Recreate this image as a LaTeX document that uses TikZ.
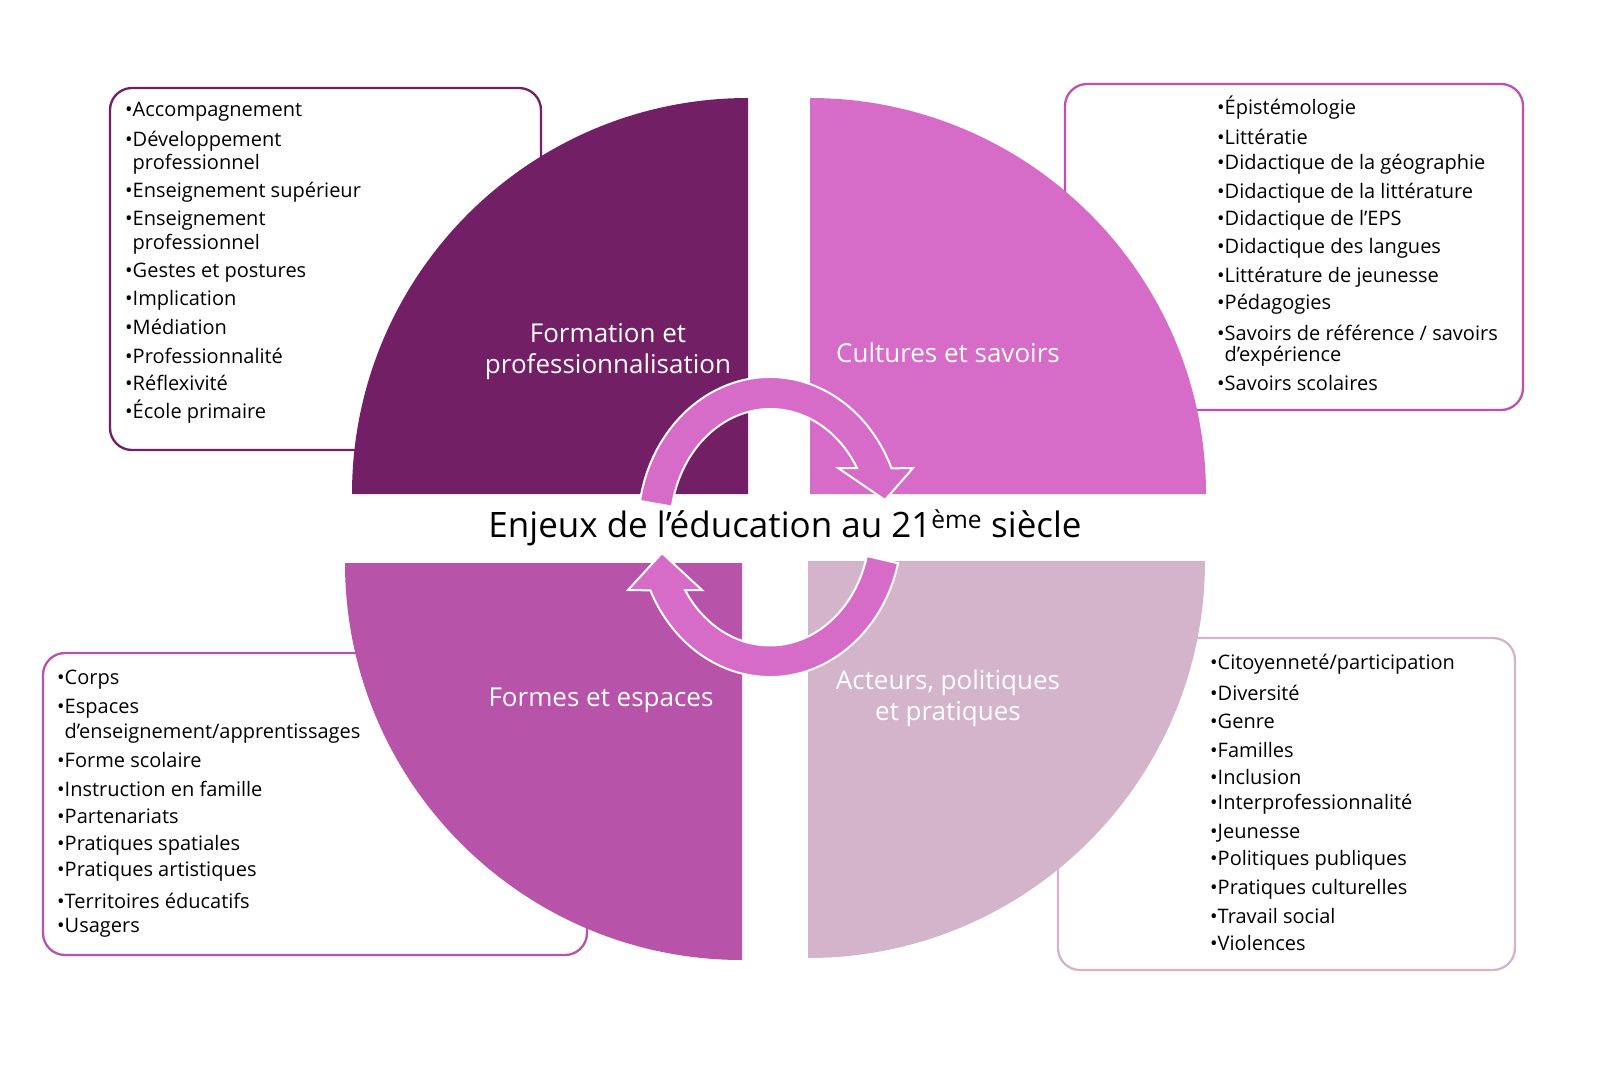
\documentclass[tikz,border=0pt]{standalone}
\usepackage{fontspec}
\setmainfont{Open Sans}
\definecolor{qa}{HTML}{721F66}
\definecolor{qb}{HTML}{D76BC8}
\definecolor{qc}{HTML}{B853AA}
\definecolor{qd}{HTML}{D4B4CB}
\definecolor{bb}{HTML}{C050B0}
\newcommand{\sq}{{\char"0027}}
\begin{document}
\begin{tikzpicture}[x=1pt,y=-1pt,
  lbox/.style={rounded corners=22pt,line width=2.3pt,fill=white},
  item/.style={anchor=west,inner sep=0pt,font=\fontsize{20}{22}\selectfont},
  qlab/.style={text=white,align=center,font=\fontsize{26}{31}\selectfont},
  arr/.style={fill=qb,draw=white,line width=2pt}]
\path[use as bounding box] (0,0) rectangle (1618,1066);
% boxes
\draw[lbox,draw=qa] (110,88) rectangle (541,450);
\draw[lbox,draw=bb] (1065,84) rectangle (1523,410);
\draw[lbox,draw=qc] (43,653) rectangle (587,955);
\draw[lbox,draw=qd] (1058,638) rectangle (1515,970);
% quadrants
\fill[qa] (748,494) -- (352,494) arc[start angle=180,end angle=270,radius=396] -- cycle;
\fill[qb] (810,494) -- (810,98) arc[start angle=270,end angle=360,radius=396] -- cycle;
\fill[qc] (742,563) -- (742,960) arc[start angle=90,end angle=180,radius=397] -- (742,563) -- cycle;
\fill[qd] (808,561) -- (1205,561) arc[start angle=0,end angle=90,radius=397] -- cycle;
% labels
\node[qlab] (q1) at (608,352) {Formation et\\professionnalisation};
\node[qlab] (q2) at (948,353) {Cultures et savoirs};
\node[qlab] (q3) at (601,700) {Formes et espaces};
\node[qlab] (q4) at (948,698) {Acteurs, politiques\\et pratiques};
% circular arrows
\path[arr] (770,527) ++(190:132 and 150) arc[start angle=190,end angle=337,x radius=132,y radius=150]
  -- (913,468) -- (885,500) -- (838,468) -- (857,468)
  arc[start angle=330,end angle=190,x radius=100,y radius=118] -- cycle;
\path[arr] (770,527) ++(14:132 and 150) arc[start angle=14,end angle=155,x radius=132,y radius=150]
  -- (628,590) -- (662,553) -- (702,590) -- (685,590)
  arc[start angle=148,end angle=14,x radius=100,y radius=118] -- cycle;
\node[font=\fontsize{35}{40}\selectfont] (title) at (785,528) {Enjeux de l’éducation au 21\textsuperscript{ème} siècle};
% lists
\foreach \y/\t [count=\i] in {112/{•Accompagnement},141/{•Développement},164/{\phantom{•}professionnel},192/{•Enseignement supérieur},221/{•Enseignement},244/{\phantom{•}professionnel},273/{•Gestes et postures},300/{•Implication},327/{•Médiation},356/{•Professionnalité},383/{•Réflexivité},412/{•École primaire}}
  \node[item] (a\i) at (125,\y) {\t};
\foreach \y/\t [count=\i] in {108/{•Épistémologie},137/{•Littératie},164/{•Didactique de la géographie},193/{•Didactique de la littérature},220/{•Didactique de l’EPS},248/{•Didactique des langues},277/{•Littérature de jeunesse},304/{•Pédagogies},333/{•Savoirs de référence / savoirs},356/{\phantom{•}d\sq expérience},383/{•Savoirs scolaires}}
  \node[item] (b\i) at (1217,\y) {\t};
\foreach \y/\t [count=\i] in {680/{•Corps},709/{•Espaces},733/{\phantom{•}d\sq enseignement/apprentissages},760/{•Forme scolaire},789/{•Instruction en famille},816/{•Partenariats},845/{•Pratiques spatiales},872/{•Pratiques artistiques},901/{•Territoires éducatifs},928/{•Usagers}}
  \node[item] (c\i) at (57,\y) {\t};
\foreach \y/\t [count=\i] in {664/{•Citoyenneté/participation},693/{•Diversité},721/{•Genre},750/{•Familles},777/{•Inclusion},804/{•Interprofessionnalité},833/{•Jeunesse},860/{•Politiques publiques},889/{•Pratiques culturelles},916/{•Travail social},943/{•Violences}}
  \node[item] (d\i) at (1210,\y) {\t};
\end{tikzpicture}
\end{document}
